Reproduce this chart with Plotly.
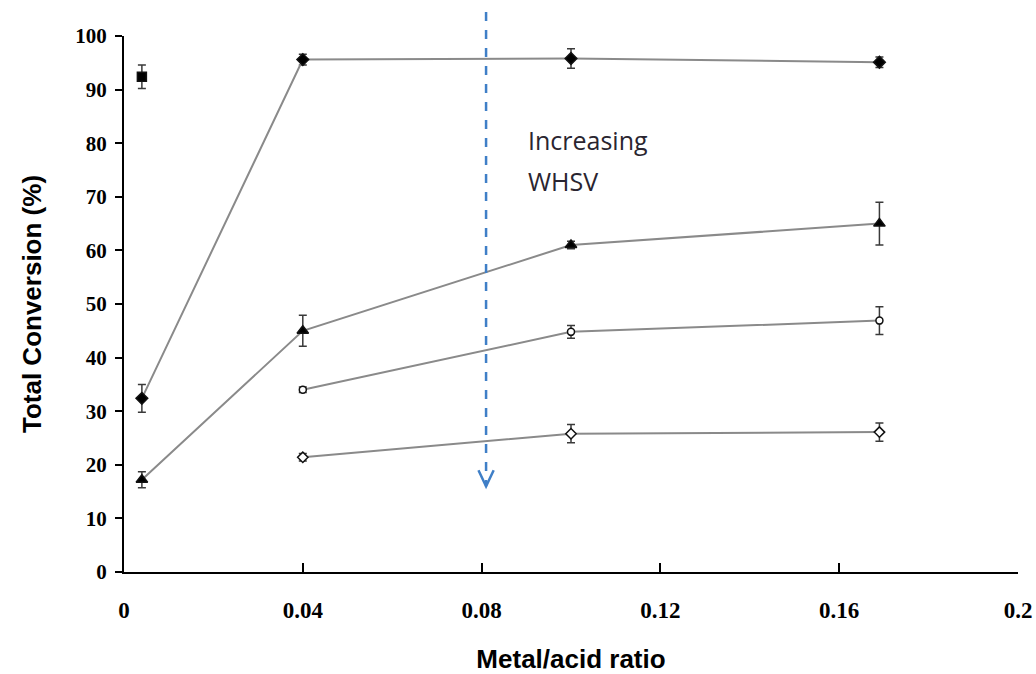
import plotly.graph_objects as go

# Metal/acid ratio positions
ratio_low = [0.004, 0.04, 0.1, 0.169]
ratio_high = [0.04, 0.1, 0.169]
ratio_single = [0.004]

# Total conversion (%) and error bars for each WHSV series
conv_diamond = [32.4, 95.6, 95.8, 95.1]
err_diamond = [2.6, 1.0, 1.8, 1.0]

conv_square = [92.4]
err_square = [2.2]

conv_triangle = [17.2, 45.0, 61.0, 65.0]
err_triangle = [1.5, 2.9, 0.7, 4.0]

conv_circle = [34.0, 44.8, 46.9]
err_circle = [0.5, 1.2, 2.6]

conv_open_diamond = [21.4, 25.8, 26.1]
err_open_diamond = [0.7, 1.7, 1.7]

# Arrow indicating increasing WHSV
arrow_x = 0.081
arrow_y_end = 16.0
arrow_lines = ["Increasing", "WHSV"]
arrow_line_y = [80.6, 73.0]

x_ticks = [0, 0.04, 0.08, 0.12, 0.16, 0.2]
x_ticktext = ["0", "0.04", "0.08", "0.12", "0.16", "0.2"]
y_ticks = list(range(0, 101, 10))

LINE_COLOR = "#8a8a8a"
ERR_COLOR = "#3a3a3a"


def series(x, y, err, symbol, size, fill, line=True):
    return go.Scatter(
        x=x, y=y,
        mode="lines+markers" if line else "markers",
        line=dict(color=LINE_COLOR, width=2),
        marker=dict(symbol=symbol, size=size, color=fill,
                    line=dict(color="#111111", width=1.5)),
        error_y=dict(type="data", array=err, visible=True,
                     color=ERR_COLOR, thickness=1.5, width=4),
        showlegend=False, cliponaxis=False,
    )


fig = go.Figure()
fig.add_trace(series(ratio_low, conv_diamond, err_diamond, "diamond", 9, "#000000"))
fig.add_trace(series(ratio_single, conv_square, err_square, "square", 9, "#000000", line=False))
fig.add_trace(series(ratio_low, conv_triangle, err_triangle, "triangle-up", 10, "#000000"))
fig.add_trace(series(ratio_high, conv_circle, err_circle, "circle", 7, "#ffffff"))
fig.add_trace(series(ratio_high, conv_open_diamond, err_open_diamond, "diamond", 8, "#ffffff"))

# Dashed arrow shaft (starts above the plotting area)
fig.add_shape(type="line", xref="x", yref="paper",
              x0=arrow_x, x1=arrow_x, y0=1.045, y1=arrow_y_end / 100,
              line=dict(color="#3f7fc7", width=2.5, dash="dash"))
# Open chevron arrow head
fig.add_shape(type="path", xref="x", yref="y",
              path=(f"M {arrow_x - 0.0017} {arrow_y_end + 3.0} "
                    f"L {arrow_x} {arrow_y_end} "
                    f"L {arrow_x + 0.0017} {arrow_y_end + 3.0}"),
              line=dict(color="#3f7fc7", width=2.5))

for text, y in zip(arrow_lines, arrow_line_y):
    fig.add_annotation(x=0.0899, y=y, xref="x", yref="y", text=text,
                       showarrow=False, xanchor="left", yanchor="middle",
                       font=dict(family="Open Sans", size=25, color="#2a2530"))

fig.update_layout(
    width=1036, height=674,
    margin=dict(l=124, r=18, t=36, b=102),
    paper_bgcolor="white", plot_bgcolor="white",
    xaxis=dict(
        range=[0, 0.2], tickvals=x_ticks, ticktext=x_ticktext,
        automargin=False,
        showgrid=False, zeroline=False,
        showline=True, linecolor="#000000", linewidth=2,
        ticks="inside", ticklen=9, tickwidth=2, tickcolor="#000000",
        ticklabelstandoff=16,
        tickfont=dict(family="Liberation Serif", size=23, color="#000000", weight="bold"),
        title=dict(text="Metal/acid ratio", standoff=30,
                   font=dict(family="Liberation Sans", size=26, color="#000000", weight="bold")),
    ),
    yaxis=dict(
        range=[0, 100], tickvals=y_ticks,
        automargin=False,
        showgrid=False, zeroline=False,
        showline=True, linecolor="#000000", linewidth=2,
        ticks="outside", ticklen=7, tickwidth=2, tickcolor="#000000",
        ticklabelstandoff=4,
        tickfont=dict(family="Liberation Serif", size=21, color="#000000", weight="bold"),
        title=dict(text="Total Conversion (%)", standoff=26,
                   font=dict(family="Liberation Sans", size=26, color="#000000", weight="bold")),
    ),
)

fig.write_html("out.html")
